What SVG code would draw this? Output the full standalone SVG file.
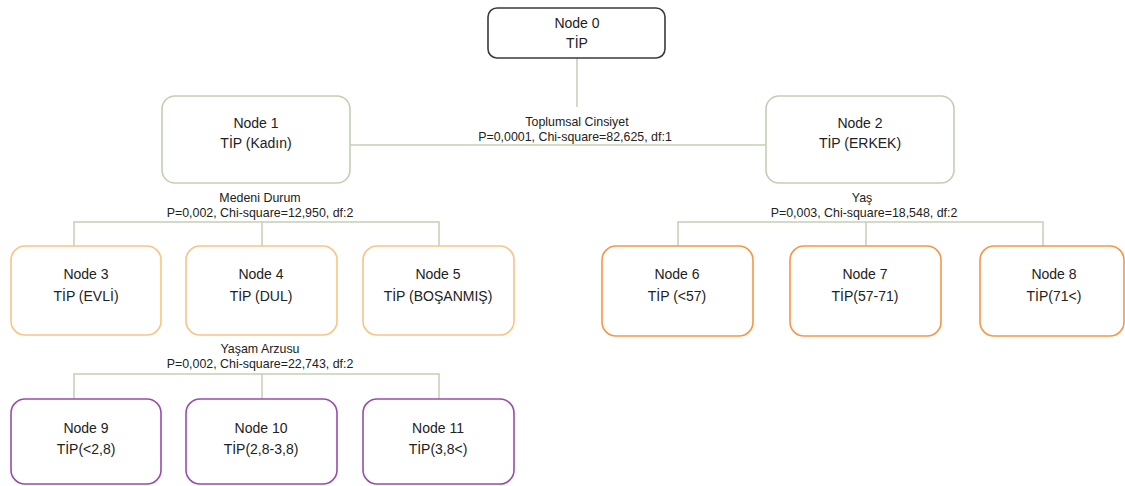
<svg xmlns="http://www.w3.org/2000/svg" width="1125" height="486" viewBox="0 0 1125 486">
<style>
text{font-family:"Liberation Sans",Arial,sans-serif;fill:#222;text-anchor:middle}
.n{font-size:14px}
.l{font-size:12.4px}
rect{fill:#fff;stroke-width:1.6}
.k{stroke:#3a3a3a}
.g{stroke:#c2d0b2}
.o1{stroke:#f9c487}
.o2{stroke:#f79646}
.p{stroke:#9b4aad}
.c{stroke:#c2d0b2;stroke-width:1.5;fill:none}
</style>
<rect width="1125" height="486" fill="#fff" stroke="none"/>
<g id="connectors">
<path class="c" d="M577 58V107"/>
<path class="c" d="M350 145H766"/>
<path class="c" d="M74 246V222H439V246M262 222V246"/>
<path class="c" d="M678 246V222H1043V246M866 222V246"/>
<path class="c" d="M74 399V374H439V399M262 374V399"/>
</g>
<g id="labels">
<text class="l" x="577" y="126">Toplumsal Cinsiyet</text>
<text class="l" x="575" y="141">P=0,0001, Chi-square=82,625, df:1</text>
<text class="l" x="260" y="202">Medeni Durum</text>
<text class="l" x="260" y="217">P=0,002, Chi-square=12,950, df:2</text>
<text class="l" x="862" y="202">Yaş</text>
<text class="l" x="864" y="217">P=0,003, Chi-square=18,548, df:2</text>
<text class="l" x="260" y="353">Yaşam Arzusu</text>
<text class="l" x="260" y="368">P=0,002, Chi-square=22,743, df:2</text>
</g>
<g id="node0"><rect class="k" x="488" y="8" width="177" height="50" rx="9"/><text class="n" x="577" y="28">Node 0</text><text class="n" x="577" y="48">TİP</text></g>
<g id="node1"><rect class="g" x="162" y="96" width="188" height="87" rx="13"/><text class="n" x="256" y="128">Node 1</text><text class="n" x="256" y="148">TİP (Kadın)</text></g>
<g id="node2"><rect class="g" x="766" y="96" width="188" height="87" rx="13"/><text class="n" x="860" y="128">Node 2</text><text class="n" x="860" y="148">TİP (ERKEK)</text></g>
<g id="node3"><rect class="o1" x="11" y="246" width="150" height="89" rx="14"/><text class="n" x="86" y="279">Node 3</text><text class="n" x="86" y="301">TİP (EVLİ)</text></g>
<g id="node4"><rect class="o1" x="186" y="246" width="151" height="89" rx="14"/><text class="n" x="261" y="279">Node 4</text><text class="n" x="261" y="301">TİP (DUL)</text></g>
<g id="node5"><rect class="o1" x="363" y="246" width="151" height="89" rx="14"/><text class="n" x="438" y="279">Node 5</text><text class="n" x="438" y="301">TİP (BOŞANMIŞ)</text></g>
<g id="node6"><rect class="o2" x="602" y="246" width="151" height="90" rx="14"/><text class="n" x="677" y="279">Node 6</text><text class="n" x="677" y="301">TİP (&lt;57)</text></g>
<g id="node7"><rect class="o2" x="790" y="246" width="151" height="90" rx="14"/><text class="n" x="865" y="279">Node 7</text><text class="n" x="865" y="301">TİP(57-71)</text></g>
<g id="node8"><rect class="o2" x="980" y="246" width="144" height="90" rx="14"/><text class="n" x="1054" y="279">Node 8</text><text class="n" x="1054" y="301">TİP(71&lt;)</text></g>
<g id="node9"><rect class="p" x="11" y="399" width="150" height="85" rx="14"/><text class="n" x="86" y="433">Node 9</text><text class="n" x="86" y="454">TİP(&lt;2,8)</text></g>
<g id="node10"><rect class="p" x="186" y="399" width="151" height="85" rx="14"/><text class="n" x="261" y="433">Node 10</text><text class="n" x="261" y="454">TİP(2,8-3,8)</text></g>
<g id="node11"><rect class="p" x="363" y="399" width="151" height="85" rx="14"/><text class="n" x="438" y="433">Node 11</text><text class="n" x="438" y="454">TİP(3,8&lt;)</text></g>
</svg>
